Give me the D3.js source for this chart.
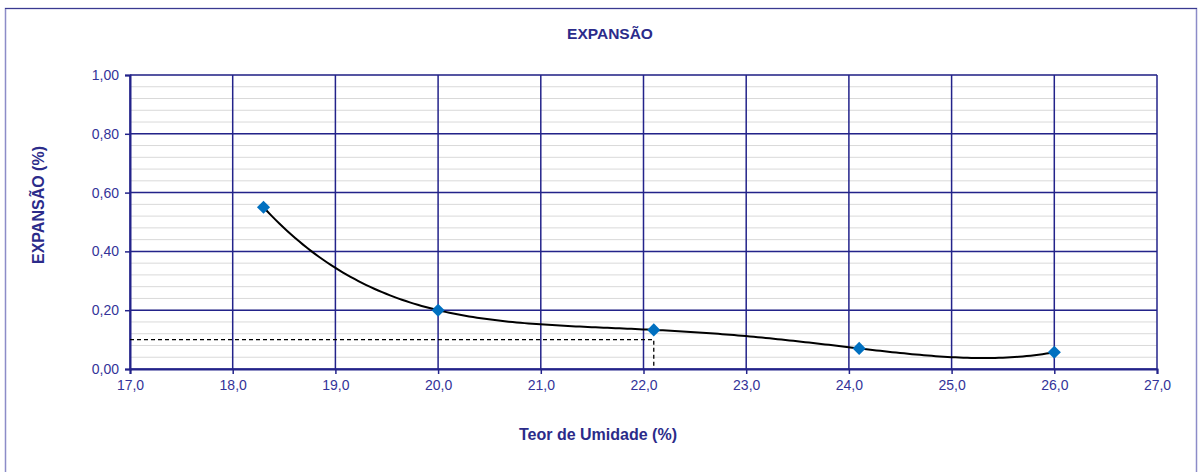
<!DOCTYPE html>
<html>
<head>
<meta charset="utf-8">
<script src="https://cdn.jsdelivr.net/npm/d3@7"></script>
<style>
  body { margin: 0; background: #fff; }
  svg { display: block; font-family: "Liberation Sans", Arial, sans-serif; }
</style>
</head>
<body>
<svg></svg>
<script>
// data

const umidade = [18.3, 20.0, 22.1, 24.1, 26.0];
const expansao = [0.55, 0.20, 0.133, 0.070, 0.057];
const xTicks = [17, 18, 19, 20, 21, 22, 23, 24, 25, 26, 27];
const yTicks = [0, 0.2, 0.4, 0.6, 0.8, 1.0];
const refPoint = { x: 22.1, y: 0.10 };

const W = 1199, H = 472;
const margin = { top: 75, right: 42, bottom: 103, left: 130 },
      width = W - margin.left - margin.right,
      height = H - margin.top - margin.bottom;

const navy = "#23238a";
const svg = d3.select("svg").attr("width", W).attr("height", H);

// outer frame
svg.append("rect")
   .attr("x", 5.5).attr("y", 8.5)
   .attr("width", 1191).attr("height", 470)
   .attr("fill", "none")
   .attr("stroke", "#8c8cc8")
   .attr("stroke-width", 1.5);
svg.append("line")
   .attr("x1", 5).attr("x2", 1197).attr("y1", 8.5).attr("y2", 8.5)
   .attr("stroke", "#3a3a90").attr("stroke-width", 1);

const g = svg.append("g")
   .attr("transform", `translate(${margin.left},${margin.top})`);

const x = d3.scaleLinear().domain([17, 27]).range([0, width]);
const y = d3.scaleLinear().domain([0, 1]).range([height, 0]);

// minor horizontal grid
g.append("g")
 .selectAll("line")
 .data(d3.range(0, 1.0001, 0.04))
 .join("line")
 .attr("x1", 0).attr("x2", width)
 .attr("y1", d => y(d)).attr("y2", d => y(d))
 .attr("stroke", "#d9d9d9").attr("stroke-width", 1);

// major grid
g.append("g")
 .selectAll("line")
 .data(yTicks)
 .join("line")
 .attr("x1", 0).attr("x2", width)
 .attr("y1", d => y(d)).attr("y2", d => y(d))
 .attr("stroke", navy).attr("stroke-width", 1.5);

g.append("g")
 .selectAll("line")
 .data(xTicks)
 .join("line")
 .attr("x1", d => x(d)).attr("x2", d => x(d))
 .attr("y1", 0).attr("y2", height)
 .attr("stroke", navy).attr("stroke-width", 1.5);

// axes
const fmt = (d, n) => d.toFixed(n).replace(".", ",");

const xAxis = g.append("g")
   .attr("transform", `translate(0,${height})`)
   .call(d3.axisBottom(x).tickValues(xTicks).tickSize(5).tickPadding(6).tickFormat(d => fmt(d, 1)));
const yAxis = g.append("g")
   .call(d3.axisLeft(y).tickValues(yTicks).tickSize(5).tickPadding(6).tickFormat(d => fmt(d, 2)));

[xAxis, yAxis].forEach(a => {
  a.select(".domain").attr("stroke", navy).attr("stroke-width", 2);
  a.selectAll(".tick line").attr("stroke", navy).attr("stroke-width", 1.5);
  a.selectAll(".tick text")
   .attr("fill", "#333399")
   .style("font-size", "14px")
   .style("font-family", "'Liberation Sans', Arial, sans-serif");
});

// dashed reference lines
g.append("path")
 .attr("d", `M${x(17)},${y(refPoint.y)}H${x(refPoint.x)}V${y(0)}`)
 .attr("fill", "none")
 .attr("stroke", "#000")
 .attr("stroke-width", 1.3)
 .attr("stroke-dasharray", "4,3");

// trendline: order-4 polynomial through the points (like the spreadsheet's)
const pts = umidade.map((u, i) => [u, expansao[i]]);

function poly(t) {
  let s = 0;
  for (let i = 0; i < umidade.length; i++) {
    let l = 1;
    for (let j = 0; j < umidade.length; j++) {
      if (j !== i) l *= (t - umidade[j]) / (umidade[i] - umidade[j]);
    }
    s += expansao[i] * l;
  }
  return s;
}

const xMin = d3.min(umidade), xMax = d3.max(umidade);
const trend = d3.range(0, 201).map(k => {
  const t = xMin + (xMax - xMin) * k / 200;
  return [t, poly(t)];
});

g.append("path")
 .datum(trend)
 .attr("fill", "none")
 .attr("stroke", "#000")
 .attr("stroke-width", 2)
 .attr("d", d3.line().x(d => x(d[0])).y(d => y(d[1])));

// markers
g.selectAll(".pt")
 .data(pts)
 .join("path")
 .attr("class", "pt")
 .attr("transform", d => `translate(${x(d[0])},${y(d[1])})`)
 .attr("d", d3.symbol().type(d3.symbolDiamond2).size(110))
 .attr("fill", "#0070c0");

// titles
svg.append("text")
   .attr("x", 610).attr("y", 39)
   .attr("text-anchor", "middle")
   .attr("fill", "#2b2b8a")
   .style("font-size", "15.5px").style("font-weight", "bold")
   .text("EXPANSÃO");

svg.append("text")
   .attr("x", 598).attr("y", 440)
   .attr("text-anchor", "middle")
   .attr("fill", "#2b2b8a")
   .style("font-size", "16px").style("font-weight", "bold")
   .text("Teor de Umidade (%)");

svg.append("text")
   .attr("transform", "translate(44,205) rotate(-90)")
   .attr("text-anchor", "middle")
   .attr("fill", "#2b2b8a")
   .style("font-size", "16px").style("font-weight", "bold")
   .text("EXPANSÃO (%)");
</script>
</body>
</html>
